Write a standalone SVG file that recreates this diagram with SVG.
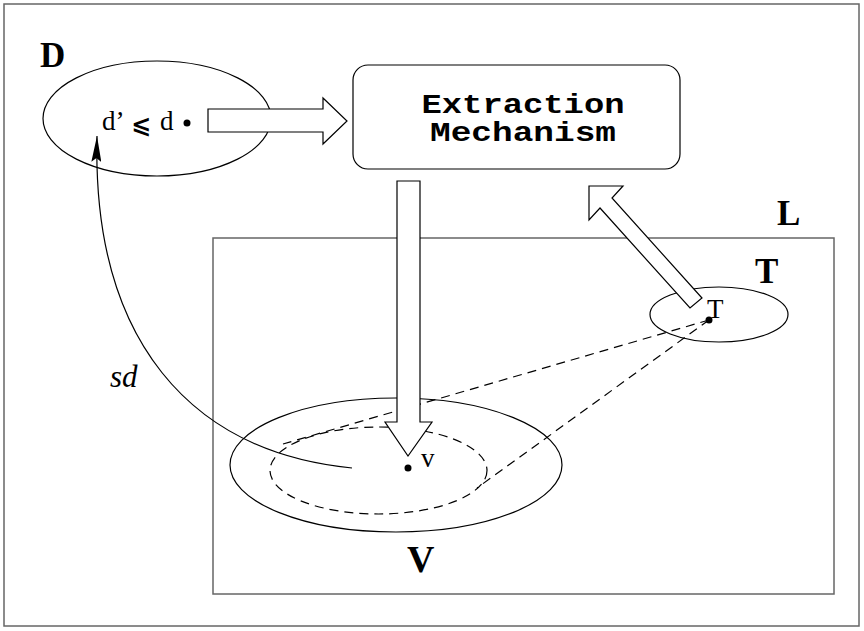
<svg xmlns="http://www.w3.org/2000/svg" width="864" height="631" viewBox="0 0 864 631">
<style>
.ln{fill:none;stroke:#000;stroke-width:1.2}
.gr{fill:none;stroke:#666;stroke-width:1.5}
.ds{fill:none;stroke:#000;stroke-width:1.2;stroke-dasharray:9,6}
.ha{fill:#fff;stroke:#000;stroke-width:1.2;stroke-linejoin:miter}
.big{font-family:"Liberation Serif","Times New Roman",serif;font-weight:bold;font-size:35px;fill:#000}
.sm{font-family:"Liberation Serif","Times New Roman",serif;font-size:27px;fill:#000}
.mono{font-family:"Liberation Mono","Courier New",monospace;font-weight:bold;font-size:28px;fill:#000}
</style>
<defs>
<marker id="ah" viewBox="0 0 26 10" refX="26" refY="5" markerWidth="26" markerHeight="10" markerUnits="userSpaceOnUse" orient="auto">
<path d="M0,0 L26,5 L0,10 L4,5 Z" fill="#000"/>
</marker>
</defs>
<rect x="4" y="4" width="855" height="622" class="gr"/>
<g id="D">
<ellipse cx="157" cy="118.5" rx="114" ry="57.5" class="ln"/>
<text x="40" y="67" class="big">D</text>
<text x="102" y="130" class="sm">d’</text>
<text x="131" y="133" style="font-family:'DejaVu Sans',sans-serif;font-size:24px;font-weight:bold">⩽</text>
<text x="160" y="130" class="sm">d</text>
<circle cx="187" cy="123" r="3.5" fill="#000"/>
</g>
<g id="L">
<rect x="213" y="238" width="621" height="356" class="gr"/>
<text x="777" y="225" class="big">L</text>
</g>
<g id="V">
<ellipse cx="396" cy="465" rx="166" ry="67" class="ln"/>
<ellipse cx="378.5" cy="470.5" rx="108.5" ry="43.5" class="ds"/>
<text x="407" y="572" class="big" style="font-size:38px">V</text>
<text x="421" y="467" class="sm">v</text>
<circle cx="408" cy="468" r="3.5" fill="#000"/>
</g>
<g id="T">
<ellipse cx="719" cy="314.5" rx="69" ry="27.5" class="ln"/>
<text x="755" y="283" class="big">T</text>
<text x="707" y="318" class="sm">T</text>
<circle cx="709" cy="320" r="3.5" fill="#000"/>
</g>
<g id="connectors">
<path d="M709,320 L283,444" class="ds"/>
<path d="M709,320 L477,488" class="ds"/>
<path d="M352,468 C190,452 92,340 97,136" class="ln" marker-end="url(#ah)"/>
<polygon points="208,109 323,109 323,98 347,121 323,144 323,132 208,132" class="ha"/>
<polygon points="397,181 420,181 420,422 432,422 408,456 385,422 397,422" class="ha"/>
<polygon points="589,186 623,186 612,198 702,298 690,308 600,208 589,220" class="ha"/>
<text x="110" y="387" style="font-family:'Liberation Serif','Times New Roman',serif;font-style:italic;font-size:31px">sd</text>
</g>
<g id="extraction">
<rect x="353" y="65" width="327" height="104" rx="15" ry="15" fill="#fff" stroke="#000" stroke-width="1.2"/>
<text x="523" y="113" class="mono" text-anchor="middle" textLength="203" lengthAdjust="spacingAndGlyphs">Extraction</text>
<text x="523" y="141" class="mono" text-anchor="middle" textLength="186" lengthAdjust="spacingAndGlyphs">Mechanism</text>
</g>
</svg>
